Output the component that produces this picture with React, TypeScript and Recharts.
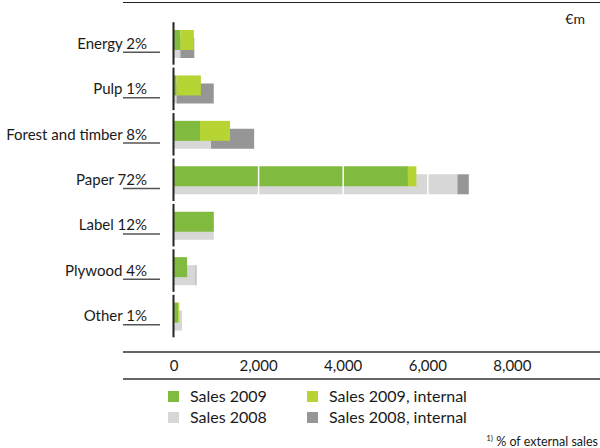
import { BarChart, Bar, XAxis, YAxis, ReferenceLine, Legend } from 'recharts';

const categories = ['Energy', 'Pulp', 'Forest and timber', 'Paper', 'Label', 'Plywood', 'Other'];
const shares = ['2%', '1%', '8%', '72%', '12%', '4%', '1%'];
const sales2009 = [150, 60, 615, 5530, 940, 310, 100];
const sales2009Internal = [320, 575, 710, 200, 0, 0, 25];
const sales2008 = [150, 60, 875, 6700, 940, 510, 190];
const sales2008Internal = [330, 880, 1020, 270, 0, 20, 0];
const xTicks = [0, 2000, 4000, 6000, 8000];

const GREEN = '#80ba3e';
const LIME = '#b6d433';
const LIGHT = '#d7d7d7';
const DARK = '#969696';
const FONT = 'Lato, "Open Sans", sans-serif';

const data = categories.map((name, i) => ({
  name,
  label: `${name} ${shares[i]}`,
  s2009: sales2009[i],
  s2009i: sales2009Internal[i],
  s2008: sales2008[i],
  s2008i: sales2008Internal[i],
}));

const legendItems = [
  { name: 'Sales 2009', color: GREEN },
  { name: 'Sales 2009, internal', color: LIME },
  { name: 'Sales 2008', color: LIGHT },
  { name: 'Sales 2008, internal', color: DARK },
];

// category label + footnote underline + segment of the axis line
const CategoryTick = (props: any) => {
  const { x, y, payload, index } = props;
  const row = data[index] ?? data.find((d) => d.name === payload.value);
  return (
    <g>
      <text x={x - 27} y={y + 5} textAnchor="end" fontSize={15} fill="#1a1a1a" fontFamily={FONT}>
        {row ? row.label : payload.value}
      </text>
      <line x1={x - 51} x2={x - 14} y1={y + 8.5} y2={y + 8.5} stroke="#555" strokeWidth={1.5} />
      <line x1={x - 0.5} x2={x - 0.5} y1={y - 21.5} y2={y + 21} stroke="#222" strokeWidth={2} />
    </g>
  );
};

const ValueTick = (props: any) => {
  const { x, y, payload, index } = props;
  return (
    <g>
      {index === 0 && (
        <>
          <line x1={123} x2={600} y1={y + 13} y2={y + 13} stroke="#333" strokeWidth={1.5} />
          <line x1={123} x2={600} y1={y + 40} y2={y + 40} stroke="#333" strokeWidth={1.5} />
        </>
      )}
      <text x={x} y={y + 32} textAnchor="middle" fontSize={15} fill="#1a1a1a" fontFamily={FONT}>
        {Number(payload.value).toLocaleString('en-US')}
      </text>
    </g>
  );
};

const LegendBox = () => (
  <div style={{ position: 'relative', width: 600, height: 62, fontFamily: FONT, color: '#1a1a1a' }}>
    {legendItems.map((item, i) => {
      const col = i % 2;
      const row = Math.floor(i / 2);
      const left = col === 0 ? 168 : 307;
      const top = row * 21;
      return (
        <div key={item.name} style={{ position: 'absolute', left, top, height: 20, display: 'flex', alignItems: 'center', whiteSpace: 'nowrap' }}>
          <span style={{ display: 'inline-block', width: 11, height: 11, background: item.color, marginRight: 11 }} />
          <span style={{ fontSize: 16, lineHeight: '20px' }}>{item.name}</span>
        </div>
      );
    })}
    <div style={{ position: 'absolute', right: 2, top: 44, fontSize: 12.5, lineHeight: '16px', whiteSpace: 'nowrap' }}>
      <sup style={{ fontSize: 8 }}>1)</sup> % of external sales
    </div>
  </div>
);

export default function App() {
  return (
    <div style={{ position: 'absolute', left: 0, top: 0, width: 600, height: 448, background: '#fff' }}>
      <div style={{ position: 'absolute', left: 123, top: 2, width: 477, height: 0, borderTop: '1.5px solid #222' }} />
      <div style={{ position: 'absolute', right: 15, top: 9, fontSize: 14, lineHeight: '20px', fontFamily: FONT, color: '#1a1a1a' }}>
        €m
      </div>
      <BarChart
        width={600}
        height={448}
        data={data}
        layout="vertical"
        margin={{ top: 21, right: 3, left: 0, bottom: 0 }}
        barSize={20}
        barGap={-28}
      >
        <XAxis
          type="number"
          domain={[0, 10000]}
          ticks={xTicks}
          height={47}
          axisLine={false}
          tickLine={false}
          tickSize={0}
          tickMargin={0}
          tick={<ValueTick />}
          interval={0}
        />
        <YAxis
          type="category"
          dataKey="name"
          width={174}
          axisLine={false}
          tickLine={false}
          tickSize={0}
          tickMargin={0}
          tick={<CategoryTick />}
          interval={0}
        />
        <Bar dataKey="s2008" name="Sales 2008" stackId="y2008" fill={LIGHT} isAnimationActive={false} />
        <Bar dataKey="s2008i" name="Sales 2008, internal" stackId="y2008" fill={DARK} isAnimationActive={false} />
        <Bar dataKey="s2009" name="Sales 2009" stackId="y2009" fill={GREEN} isAnimationActive={false} />
        <Bar dataKey="s2009i" name="Sales 2009, internal" stackId="y2009" fill={LIME} isAnimationActive={false} />
        {xTicks.slice(1).map((t) => (
          <ReferenceLine key={t} x={t} stroke="#fff" strokeWidth={1.5} />
        ))}
        <Legend verticalAlign="bottom" wrapperStyle={{ left: 0, width: 600 }} content={<LegendBox />} />
      </BarChart>
    </div>
  );
}
